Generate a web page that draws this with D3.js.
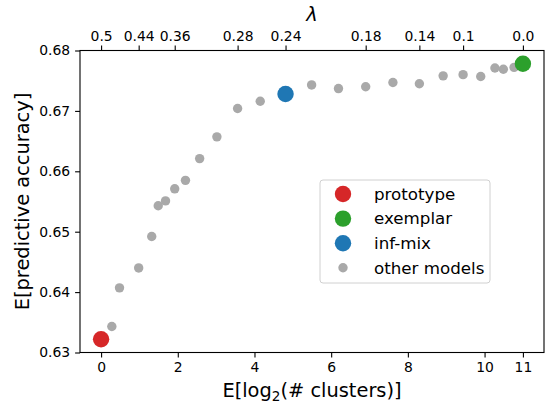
<!DOCTYPE html>
<html>
<head>
<meta charset="utf-8">
<script src="https://cdn.jsdelivr.net/npm/d3@7"></script>
<style>
  body { margin: 0; background: #fff; }
  svg, svg text { font-family: "DejaVu Sans", sans-serif; }
</style>
</head>
<body>
<div id="chart"></div>
<script>
// E[log2(# clusters)] and E[predictive accuracy] for the grey models
const otherX = [0.28, 0.48, 0.98, 1.32, 1.49, 1.68, 1.92, 2.2, 2.57, 3.02, 3.56, 4.15,
                5.49, 6.19, 6.9, 7.61, 8.3, 8.92, 9.44, 9.9, 10.27, 10.49, 10.77]
const otherY = [0.6343, 0.6407, 0.6440, 0.6492, 0.6543, 0.6551, 0.6571, 0.6585, 0.6621, 0.6657, 0.6704, 0.6716,
                0.6743, 0.6737, 0.6740, 0.6747, 0.6745, 0.6758, 0.6760, 0.6757, 0.6771, 0.6769, 0.6772]

const keyNames = ["prototype", "exemplar", "inf-mix"]
const keyX = [0, 11, 4.81]
const keyY = [0.6322, 0.6778, 0.6728]
const keyColors = ["#d62728", "#2ca02c", "#1f77b4"]

const xTicks = [0, 2, 4, 6, 8, 10, 11]
const yTicks = [0.63, 0.64, 0.65, 0.66, 0.67, 0.68]
// lambda labels on the top axis, placed at the matching model positions
const lambdaLabels = ["0.5", "0.44", "0.36", "0.28", "0.24", "0.18", "0.14", "0.1", "0.0"]
const lambdaAt = [0, 0.98, 1.92, 3.56, 4.81, 6.9, 8.3, 9.44, 11]

const width = 545, height = 404
const mLeft = 80, mRight = 544, mTop = 50.5, mBottom = 352.5
const tickLen = 4.9

const svg = d3.select("#chart").append("svg")
    .attr("width", width)
    .attr("height", height)

const x = d3.scaleLinear().domain([-0.55, 11.55]).range([mLeft, mRight])
const y = d3.scaleLinear().domain([0.63, 0.68]).range([mBottom, mTop])

// axes
const xAxis = svg.append("g")
    .attr("transform", "translate(0," + mBottom + ")")
    .call(d3.axisBottom(x).tickValues(xTicks).tickFormat(d3.format("d")).tickSize(tickLen).tickPadding(4).tickSizeOuter(0))
const yAxis = svg.append("g")
    .attr("transform", "translate(" + mLeft + ",0)")
    .call(d3.axisLeft(y).tickValues(yTicks).tickFormat(d3.format(".2f")).tickSize(tickLen).tickPadding(5).tickSizeOuter(0))
const topAxis = svg.append("g")
    .attr("transform", "translate(0," + mTop + ")")
    .call(d3.axisTop(x).tickValues(lambdaAt).tickFormat((d, i) => lambdaLabels[i]).tickSize(tickLen).tickPadding(4).tickSizeOuter(0))

;[xAxis, yAxis, topAxis].forEach(g => {
    g.attr("font-family", null).attr("font-size", null)
    g.selectAll("text").style("font-size", "13.9px").attr("fill", "#000")
    g.selectAll("line").attr("stroke", "#000").attr("stroke-width", 1.1)
    g.select("path.domain").remove()
})
xAxis.selectAll("text").attr("dy", "0.76em")
topAxis.selectAll("text").attr("dy", "-0.05em")

// spines
svg.append("rect")
    .attr("x", mLeft)
    .attr("y", mTop)
    .attr("width", mRight - mLeft)
    .attr("height", mBottom - mTop)
    .attr("fill", "none")
    .attr("stroke", "#000")
    .attr("stroke-width", 1.1)

// axis labels
const xl = svg.append("text")
    .attr("x", (mLeft + mRight) / 2)
    .attr("y", 397)
    .attr("text-anchor", "middle")
    .style("font-size", "19.4px")
xl.append("tspan").text("E[log")
xl.append("tspan").text("2").attr("dy", 4).style("font-size", "13.6px")
xl.append("tspan").text("(# clusters)]").attr("dy", -4)

svg.append("text")
    .attr("transform", "translate(29," + ((mTop + mBottom) / 2) + ") rotate(-90)")
    .attr("text-anchor", "middle")
    .style("font-size", "19.4px")
    .text("E[predictive accuracy]")

svg.append("text")
    .attr("x", (mLeft + mRight) / 2)
    .attr("y", 21)
    .attr("text-anchor", "middle")
    .style("font-size", "19.4px")
    .style("font-style", "italic")
    .text("λ")

// points
svg.selectAll("circle.other")
    .data(otherX)
    .enter()
    .append("circle")
    .attr("class", "other")
    .attr("cx", d => x(d))
    .attr("cy", (d, i) => y(otherY[i]))
    .attr("r", 4.7)
    .attr("fill", "#a9a9a9")

svg.selectAll("circle.key")
    .data(keyX)
    .enter()
    .append("circle")
    .attr("class", "key")
    .attr("cx", d => x(d))
    .attr("cy", (d, i) => y(keyY[i]))
    .attr("r", 8.2)
    .attr("fill", (d, i) => keyColors[i])

// legend
const legend = svg.append("g").attr("transform", "translate(320,180)")
legend.append("rect")
    .attr("width", 170)
    .attr("height", 103)
    .attr("rx", 3)
    .attr("fill", "#fff")
    .attr("fill-opacity", 0.8)
    .attr("stroke", "#d0d0d0")

const legNames = keyNames.concat(["other models"])
const legColors = keyColors.concat(["#a9a9a9"])
const legR = [8.2, 8.2, 8.2, 4.7]
legNames.forEach((n, i) => {
    const ly = 14 + i * 24.6
    legend.append("circle")
        .attr("cx", 23)
        .attr("cy", ly)
        .attr("r", legR[i])
        .attr("fill", legColors[i])
    legend.append("text")
        .attr("x", 54)
        .attr("y", ly)
        .attr("dy", "0.35em")
        .style("font-size", "16.7px")
        .text(n)
})
</script>
</body>
</html>
